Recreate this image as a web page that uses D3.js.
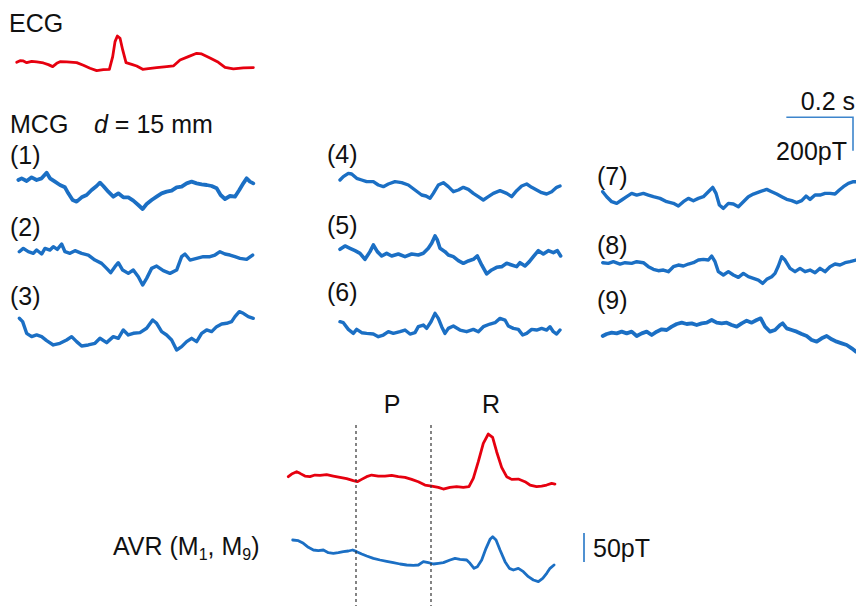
<!DOCTYPE html>
<html>
<head>
<meta charset="utf-8">
<script src="https://cdn.jsdelivr.net/npm/d3@7"></script>
<style>
  body { margin: 0; background: #fff; }
  text { font-family: "Liberation Sans", Arial, sans-serif; fill: #111; }
</style>
</head>
<body>
<div id="fig"></div>
<script>
"use strict";

// each trace: [time (ms), amplitude (pT, arbitrary for ECG)]
const ecgTop = [[0,0],[10,10],[20,8],[30,-2],[45,6],[60,2],[80,-4],[95,-14],[108,-26],[120,-6],[130,4],[150,2],[180,-2],[200,-18],[220,-36],[240,-50],[260,-44],[278,-42],[288,34],[295,124],[302,158],[310,144],[318,74],[328,-2],[345,-12],[360,-22],[378,-42],[395,-38],[420,-32],[450,-26],[470,-22],[490,14],[515,34],[540,54],[555,50],[580,26],[605,0],[625,-30],[650,-40],[680,-34],[710,-32]];

const mcg1 = [[0,0],[10,10],[25,-6],[40,16],[55,0],[70,10],[85,44],[95,10],[110,-10],[125,-30],[140,-44],[150,-80],[163,-120],[175,-130],[190,-104],[205,-90],[220,-60],[235,-36],[245,-16],[255,-36],[270,-70],[285,-100],[300,-80],[315,-104],[330,-104],[345,-124],[360,-150],[373,-174],[385,-144],[400,-120],[415,-100],[430,-80],[445,-70],[460,-64],[475,-44],[490,-40],[505,-20],[520,-10],[535,-20],[550,-26],[565,-30],[580,-36],[595,-50],[607,-90],[620,-114],[635,-96],[650,-100],[663,-60],[675,-20],[685,10],[695,-10],[705,-20]];

const mcg2 = [[0,0],[12,20],[27,0],[42,-10],[52,10],[67,-14],[77,20],[92,10],[102,30],[114,14],[127,46],[137,0],[152,-10],[167,6],[187,-10],[207,-20],[227,-50],[247,-70],[262,-100],[274,-126],[287,-90],[297,-66],[310,-110],[327,-130],[342,-110],[357,-150],[370,-200],[382,-160],[397,-100],[412,-86],[432,-114],[452,-130],[472,-110],[487,-30],[497,-14],[512,-50],[532,-40],[552,-30],[572,-30],[587,-20],[602,0],[617,-14],[632,-20],[647,-30],[662,-40],[682,-46],[700,-20]];

const mcg3 = [[0,0],[10,-20],[22,-90],[37,-110],[52,-100],[67,-110],[82,-134],[102,-160],[122,-150],[142,-130],[157,-110],[172,-140],[187,-166],[207,-160],[227,-150],[242,-120],[262,-146],[282,-110],[297,-120],[312,-70],[327,-100],[342,-90],[362,-86],[382,-60],[400,-10],[412,-30],[427,-80],[442,-100],[457,-130],[472,-190],[487,-170],[502,-140],[517,-120],[532,-140],[547,-90],[562,-70],[577,-80],[592,-50],[607,-34],[622,-30],[637,-20],[647,10],[660,40],[672,30],[687,10],[702,0]];

const mcg4 = [[0,0],[10,20],[25,40],[35,36],[50,10],[65,0],[80,-10],[100,-10],[115,-30],[130,-40],[145,-24],[165,-10],[185,-16],[205,-30],[225,-60],[245,-90],[258,-96],[270,-110],[280,-80],[295,-30],[310,-16],[325,-40],[340,-70],[355,-60],[370,-44],[385,-56],[400,-80],[415,-100],[430,-120],[445,-100],[460,-80],[480,-64],[500,-80],[515,-100],[530,-64],[545,-36],[560,-24],[575,-44],[590,-60],[605,-76],[620,-84],[635,-70],[650,-44],[660,-36]];

const mcg5 = [[0,0],[15,20],[30,6],[45,-8],[60,-24],[75,-60],[90,-14],[100,26],[112,-14],[125,-40],[140,-24],[155,-40],[175,-28],[195,-44],[215,-28],[235,-34],[250,-24],[265,6],[275,36],[285,80],[292,56],[300,6],[315,-14],[325,-34],[340,-44],[355,-68],[370,-84],[385,-70],[400,-60],[412,-40],[425,-94],[440,-148],[455,-124],[470,-108],[485,-104],[500,-84],[515,-94],[530,-104],[540,-80],[555,-100],[568,-74],[580,-44],[595,-8],[610,-28],[625,-8],[640,-20],[652,-8],[662,-40]];

const mcg6 = [[0,0],[10,-6],[25,-46],[40,-70],[50,-46],[65,-66],[80,-70],[100,-74],[115,-90],[130,-80],[145,-60],[160,-70],[180,-60],[195,-50],[210,-74],[225,-66],[235,-30],[250,-20],[260,-40],[273,0],[285,50],[295,20],[305,-30],[315,-70],[325,-40],[340,-26],[360,-50],[380,-60],[400,-46],[415,-60],[430,-30],[450,-14],[465,-6],[480,20],[495,10],[505,-26],[520,-40],[535,-46],[548,-80],[560,-70],[575,-46],[590,-50],[605,-40],[620,-50],[630,-30],[640,-60],[650,-74],[660,-50]];

const mcg7 = [[0,0],[12,-30],[27,-60],[42,-70],[57,-50],[72,-30],[87,-10],[102,-20],[122,-10],[137,-20],[152,-30],[172,-40],[192,-60],[212,-70],[227,-86],[242,-60],[257,-40],[272,-54],[287,-40],[302,-30],[317,0],[330,26],[340,-10],[350,-80],[362,-100],[377,-70],[392,-74],[407,-90],[422,-60],[437,-30],[452,-14],[472,0],[492,14],[507,0],[522,-14],[537,-30],[552,-46],[567,-54],[582,-66],[597,-54],[610,-26],[622,-46],[637,-20],[652,-20],[667,-10],[682,-10],[697,-14],[710,10],[722,30],[737,50],[752,60],[760,60]];

const mcg8 = [[0,0],[17,-4],[32,6],[52,-8],[67,0],[87,-4],[102,6],[122,0],[137,-24],[152,-40],[167,-48],[182,-44],[197,-54],[212,-24],[227,-14],[242,-20],[257,-8],[272,0],[287,16],[302,20],[317,16],[327,40],[337,6],[347,-54],[362,-74],[377,-54],[392,-74],[407,-88],[422,-64],[437,-84],[452,-94],[467,-104],[480,-124],[492,-100],[507,-84],[517,-64],[527,-20],[537,36],[547,16],[562,-34],[577,-54],[592,-34],[607,-54],[622,-44],[637,-60],[652,-34],[667,-54],[682,-24],[697,-8],[712,-14],[727,0],[742,6],[760,16]];

const mcg9 = [[0,0],[12,12],[27,20],[42,16],[57,26],[72,16],[87,26],[102,0],[117,16],[132,26],[147,6],[162,26],[177,40],[192,36],[207,56],[222,72],[237,80],[252,72],[267,76],[282,66],[297,76],[312,80],[327,96],[342,80],[357,76],[372,80],[387,66],[402,56],[417,76],[432,92],[447,80],[462,96],[474,106],[487,56],[502,26],[517,36],[532,66],[540,76],[552,46],[567,36],[582,26],[597,12],[612,0],[627,-24],[642,-34],[657,-14],[672,0],[687,-20],[702,-34],[717,-44],[732,-54],[747,-74],[760,-94]];

const ecgZoom = [[0,0],[10,16],[25,30],[35,20],[50,4],[65,0],[80,10],[95,8],[115,12],[135,4],[155,-4],[175,-12],[195,-24],[207,-30],[220,-16],[235,0],[250,10],[270,4],[290,4],[310,8],[330,0],[350,-4],[370,-16],[390,-30],[410,-50],[430,-56],[450,-64],[465,-74],[485,-64],[505,-60],[525,-64],[542,-60],[555,-10],[570,90],[585,200],[600,256],[613,236],[625,150],[640,56],[655,0],[670,-16],[690,-14],[710,-30],[725,-50],[745,-60],[760,-56],[775,-50],[790,-40],[800,-44]];

const avr = [[0,0],[17,-4],[32,-20],[47,-44],[62,-60],[77,-64],[92,-60],[107,-76],[122,-80],[137,-76],[152,-70],[167,-66],[180,-60],[192,-70],[207,-84],[222,-96],[242,-110],[262,-120],[282,-128],[302,-136],[322,-144],[342,-150],[362,-152],[377,-150],[392,-130],[407,-136],[422,-144],[437,-140],[452,-136],[472,-120],[487,-110],[502,-116],[522,-120],[532,-140],[544,-170],[554,-160],[567,-120],[580,-50],[592,4],[600,20],[610,0],[622,-60],[637,-130],[650,-170],[662,-180],[677,-170],[692,-190],[707,-220],[722,-240],[737,-250],[750,-230],[762,-200],[772,-170],[784,-150]];

const channelLabels = ["(1)", "(2)", "(3)", "(4)", "(5)", "(6)", "(7)", "(8)", "(9)"];
const markerLabels = ["P", "R"];
const scaleTime = 200;   // ms
const scaleField = 200;  // pT

const W = 856, H = 606;
const red = "#e6000f", blue = "#1b6fc4", barBlue = "#3d85cc";

const svg = d3.select("#fig").append("svg").attr("width", W).attr("height", H);

// one ms -> 1/3 px, one pT -> 1/6 px
const x = d3.scaleLinear().domain([0, 300]).range([0, 100]);
const y = d3.scaleLinear().domain([0, 300]).range([0, -50]);
const line = d3.line().x(d => x(d[0])).y(d => y(d[1]));

// panel origins
const panels = [
  {data: ecgTop, x0: 16.7, y0: 62.3, color: red, w: 2.8},
  {data: mcg1, x0: 18.3, y0: 180, color: blue, w: 3.8},
  {data: mcg2, x0: 19.3, y0: 251.7, color: blue, w: 3.4},
  {data: mcg3, x0: 19.3, y0: 318.3, color: blue, w: 3.4},
  {data: mcg4, x0: 340, y0: 180, color: blue, w: 3.4},
  {data: mcg5, x0: 340, y0: 249.3, color: blue, w: 3.6},
  {data: mcg6, x0: 340, y0: 321.7, color: blue, w: 3.4},
  {data: mcg7, x0: 602.7, y0: 191.7, color: blue, w: 3.4},
  {data: mcg8, x0: 602.7, y0: 262.7, color: blue, w: 3.4},
  {data: mcg9, x0: 602.7, y0: 336, color: blue, w: 3.8},
  {data: ecgZoom, x0: 288.3, y0: 476.7, color: red, w: 2.8},
  {data: avr, x0: 292.7, y0: 540, color: blue, w: 2.8}
];

panels.forEach(function(p) {
  svg.append("path")
    .attr("transform", "translate(" + p.x0 + "," + p.y0 + ")")
    .attr("d", line(p.data))
    .attr("fill", "none")
    .attr("stroke", p.color)
    .attr("stroke-width", p.w)
    .attr("stroke-linejoin", "round")
    .attr("stroke-linecap", "round");
});

// headings
svg.append("text").attr("x", 9).attr("y", 32).attr("font-size", 25).text("ECG");
const mcgT = svg.append("text").attr("x", 10).attr("y", 133).attr("font-size", 25);
mcgT.append("tspan").text("MCG");
mcgT.append("tspan").attr("x", 94).attr("font-style", "italic").text("d");
mcgT.append("tspan").text(" = 15 mm");

const labelPos = [[10,164],[10,236],[10,305],[327,163],[327,234],[327,301],[597,185],[597,254],[597,309]];
channelLabels.forEach(function(t, i) {
  svg.append("text").attr("x", labelPos[i][0]).attr("y", labelPos[i][1]).attr("font-size", 25).text(t);
});

// scale bar 0.2 s / 200 pT
const sbx = 853, sby = 117.3;
svg.append("path")
  .attr("d", "M" + (sbx - x(scaleTime)) + "," + sby + "H" + sbx + "V" + (sby - y(scaleField)))
  .attr("fill", "none").attr("stroke", barBlue).attr("stroke-width", 1.6);
svg.append("text").attr("x", sbx + 2).attr("y", 110).attr("font-size", 25).attr("text-anchor", "end").text("0.2 s");
svg.append("text").attr("x", 847).attr("y", 160).attr("font-size", 25).attr("text-anchor", "end").text("200pT");

// P / R window
[356, 431].forEach(function(xx) {
  svg.append("line").attr("x1", xx).attr("x2", xx).attr("y1", 425).attr("y2", H)
    .attr("stroke", "#333").attr("stroke-width", 1.2).attr("stroke-dasharray", "3,3");
});
const markerX = [392, 491];
markerLabels.forEach(function(t, i) {
  svg.append("text").attr("x", markerX[i]).attr("y", 413).attr("font-size", 25).attr("text-anchor", "middle").text(t);
});

const avrT = svg.append("text").attr("x", 113).attr("y", 555).attr("font-size", 25);
avrT.append("tspan").text("AVR (M");
avrT.append("tspan").attr("font-size", 16).attr("dy", 5).text("1");
avrT.append("tspan").attr("dy", -5).text(", M");
avrT.append("tspan").attr("font-size", 16).attr("dy", 5).text("9");
avrT.append("tspan").attr("dy", -5).text(")");

svg.append("line").attr("x1", 584).attr("x2", 584).attr("y1", 533).attr("y2", 562)
  .attr("stroke", barBlue).attr("stroke-width", 1.8);
svg.append("text").attr("x", 593).attr("y", 557).attr("font-size", 25).text("50pT");
</script>
</body>
</html>
